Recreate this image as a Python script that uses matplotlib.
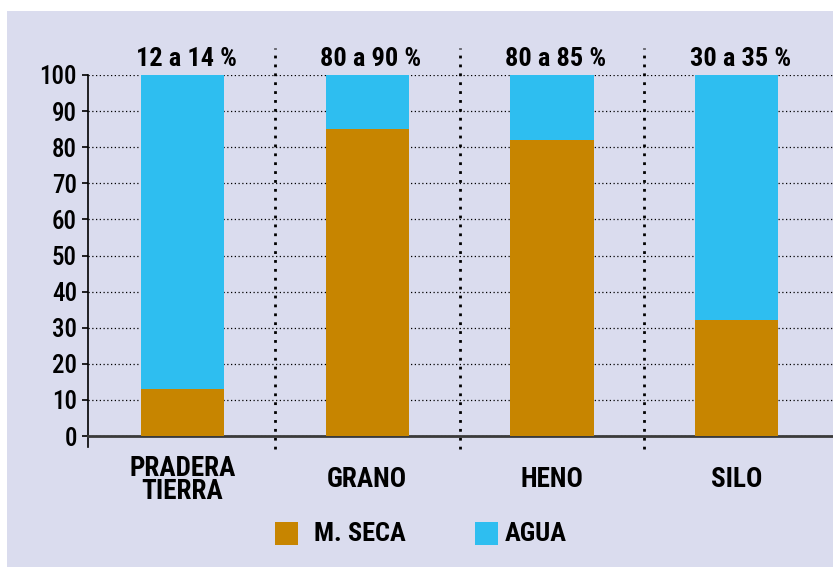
import matplotlib.pyplot as plt
from matplotlib.patches import Rectangle
from matplotlib import font_manager as fm

categorias = ['PRADERA\nTIERRA', 'GRANO', 'HENO', 'SILO']
m_seca = [13, 85, 82, 32]
agua = [87, 15, 18, 68]
rangos = ['12 a 14 %', '80 a 90 %', '80 a 85 %', '30 a 35 %']

bg = '#DADCEE'
c_seca = '#C78500'
c_agua = '#2EBEF0'

# narrow bold font if one is there
names = {f.name for f in fm.fontManager.ttflist}
fam = 'DejaVu Sans'
for cand in ['Roboto Condensed', 'Archivo Narrow', 'Liberation Sans Narrow', 'Barlow Condensed']:
    if cand in names:
        fam = cand
        break
plt.rcParams['font.family'] = [fam, 'DejaVu Sans']
plt.rcParams['font.weight'] = 'bold'
fs = 18.5

fig = plt.figure(figsize=(8.33, 5.67), dpi=100)
fig.patch.set_facecolor('white')
fig.patches.append(Rectangle((7 / 833, 0), 1, 1 - 11 / 567, transform=fig.transFigure,
                             facecolor=bg, edgecolor='none', zorder=-10))

ax = fig.add_axes([88 / 833, 1 - 436 / 567, (833 - 88) / 833, (436 - 75) / 567])
ax.set_facecolor('none')

x = range(len(categorias))
ax.bar(x, m_seca, width=0.45, color=c_seca, zorder=3)
ax.bar(x, agua, bottom=m_seca, width=0.45, color=c_agua, zorder=3)

ax.set_xlim(-0.51, 3.52)
ax.set_ylim(0, 100)
ax.set_yticks(range(0, 101, 10))
ax.tick_params(axis='y', labelsize=18, length=4, width=1.2, pad=4)
ax.tick_params(axis='x', length=0, labelsize=19.5, pad=31.5)
ax.set_xticks(list(x))
ax.set_xticklabels(categorias, fontweight='bold', linespacing=0.8)
for lab in ax.get_xticklabels():
    lab.set_va('center')
for lab in ax.get_yticklabels():
    lab.set_fontweight('medium')

ax.grid(axis='y', linestyle=(0, (1, 2)), color='black', linewidth=0.9, zorder=1)
for s in ['top', 'right']:
    ax.spines[s].set_visible(False)
ax.spines['left'].set_linewidth(1.2)
ax.spines['left'].set_bounds(-3, 100)
ax.spines['bottom'].set_color('#3a3a3a')
ax.spines['bottom'].set_linewidth(2)

for i in range(len(categorias) - 1):
    ax.plot([i + 0.5, i + 0.5], [-3.5, 107.5], linestyle=(0, (1, 2.2)), color='black',
            linewidth=2, clip_on=False, zorder=2)

for i, r in enumerate(rangos):
    ax.text(i + 0.02, 101.0, r, ha='center', va='bottom', fontsize=19, fontweight='bold')

# legend
fig.patches.append(Rectangle((275 / 833, 1 - 545 / 567), 23 / 833, 23 / 567,
                             transform=fig.transFigure, facecolor=c_seca, edgecolor='none'))
fig.patches.append(Rectangle((475 / 833, 1 - 545 / 567), 23 / 833, 23 / 567,
                             transform=fig.transFigure, facecolor=c_agua, edgecolor='none'))
fig.text(314 / 833, 1 - 534 / 567, 'M. SECA', ha='left', va='center', fontsize=19, fontweight='bold')
fig.text(505 / 833, 1 - 534 / 567, 'AGUA', ha='left', va='center', fontsize=19, fontweight='bold')

fig.savefig('out.png', dpi=100)
